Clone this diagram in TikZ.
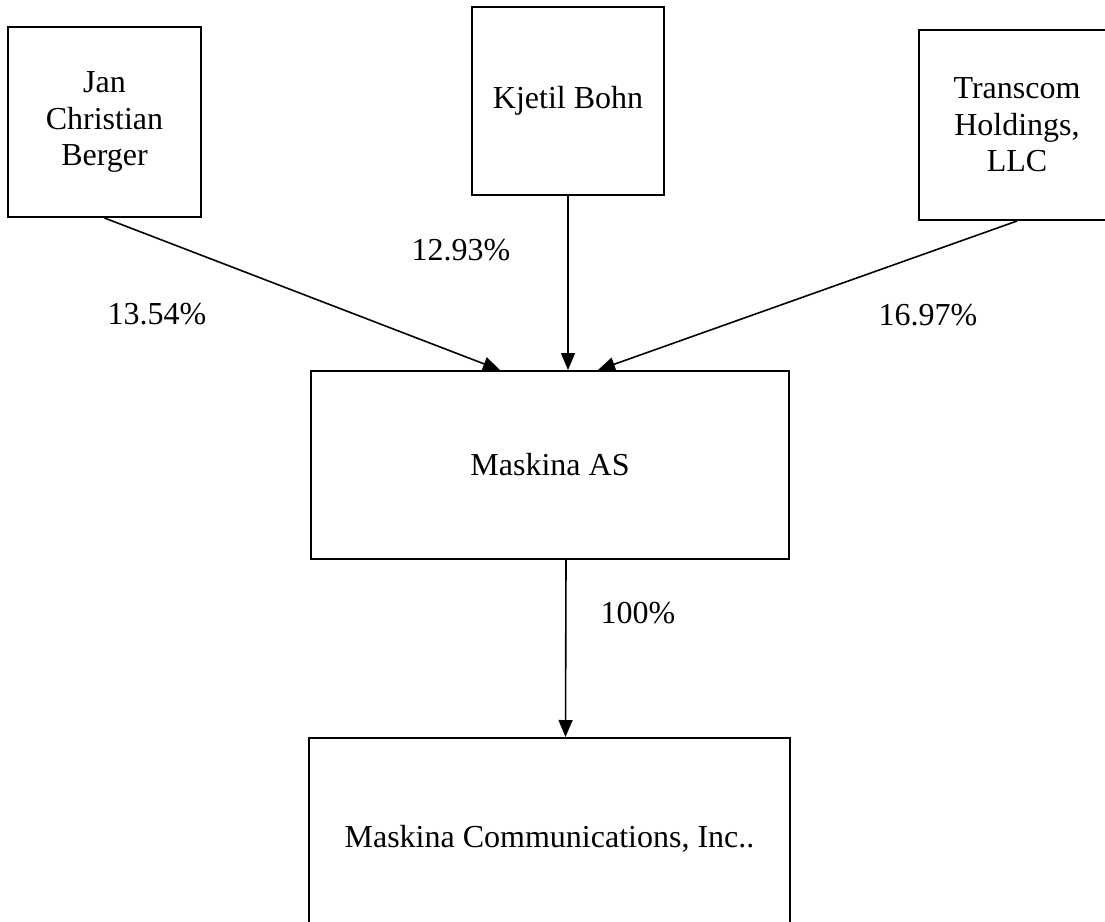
\documentclass[tikz,border=0pt]{standalone}
\usepackage{fontspec}
\setmainfont{Liberation Serif}
\usepackage{tikz}
\usetikzlibrary{arrows.meta}

\tikzset{
	holder/.style={draw, line width=2pt, align=center, inner sep=0pt},
	share/.style={line width=1.6pt, -{Triangle[length=17pt,width=14pt]}},
	pct/.style={inner sep=0pt}
}

\begin{document}
\begin{tikzpicture}[x=1pt, y=-1pt]
	\fontsize{32}{36.5}\selectfont
	\useasboundingbox (0,0) rectangle (1105,921);
	\clip (0,0) rectangle (1105,921);
	% owners
	\node[holder, minimum width=193pt, minimum height=190pt] (jan) at (104.5,122) {Jan\\Christian\\Berger};
	\node[holder, minimum width=192pt, minimum height=188pt] (kjetil) at (568,101) {Kjetil Bohn};
	\node[holder, minimum width=196pt, minimum height=190pt] (transcom) at (1017,125) {Transcom\\Holdings,\\LLC};
	% companies
	\node[holder, minimum width=478pt, minimum height=188pt] (maskinaAS) at (550,465) {Maskina AS};
	\node[holder, minimum width=481pt, minimum height=202pt] (maskinaInc) at (549.5,839) {Maskina Communications, Inc..};
	% ownership
	\draw[share] (jan.south) -- ([xshift=-50pt]maskinaAS.north);
	\draw[share] (kjetil.south) -- (kjetil.south |- maskinaAS.north);
	\draw[share] (transcom.south) -- ([xshift=48pt]maskinaAS.north);
	\draw[share] ([xshift=16pt]maskinaAS.south) -- ([xshift=16pt]maskinaInc.north);
	\node[pct] (pJan) at (157,314) {13.54\%};
	\node[pct] (pKjetil) at (461,250) {12.93\%};
	\node[pct] (pTranscom) at (928,315) {16.97\%};
	\node[pct] (pAS) at (638,613) {100\%};
	\normalsize
\end{tikzpicture}
\end{document}
